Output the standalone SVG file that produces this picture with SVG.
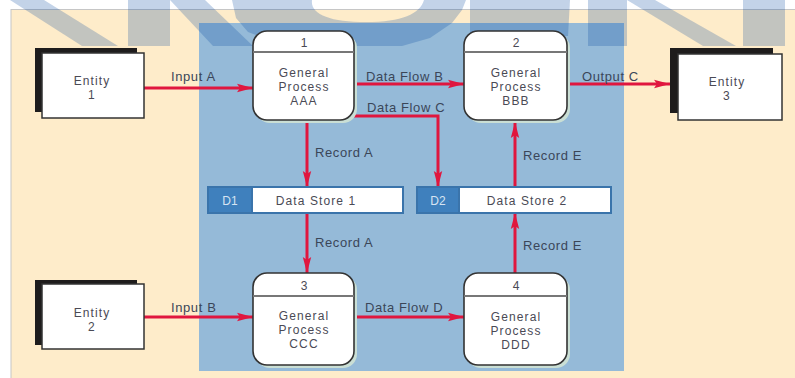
<svg xmlns="http://www.w3.org/2000/svg" width="795" height="378" viewBox="0 0 795 378">
<defs>
<style>
.txt{font-family:"Liberation Sans",Arial,Helvetica,sans-serif;font-size:12px;letter-spacing:1.1px;fill:#4a4a55;text-anchor:middle}
.lbl{font-family:"Liberation Sans",Arial,Helvetica,sans-serif;font-size:13px;letter-spacing:0.6px;fill:#3b4658}
.num{font-family:"Liberation Sans",Arial,Helvetica,sans-serif;font-size:12px;fill:#4a4a55;text-anchor:middle}
.ent{fill:#fff;stroke:#333;stroke-width:1.5}
.shd{fill:#1e1c1c}
.proc{fill:#fff;stroke:#333;stroke-width:1.6}
.pshd{fill:#cadfd5}
.div{stroke:#777;stroke-width:2}
.flow{fill:none;stroke:#e0163e;stroke-width:3;marker-end:url(#ah)}
.wm{fill:#05499e;fill-opacity:0.24}
.dsid{font-family:"Liberation Sans",Arial,Helvetica,sans-serif;font-size:12px;fill:#d6e4f2;text-anchor:middle}
</style>
<marker id="ah" markerUnits="userSpaceOnUse" markerWidth="17" markerHeight="10" refX="16" refY="5" orient="auto">
<path d="M0,0.8 L16,5 L0,9.2 L3,5 Z" fill="#e0163e"/>
</marker>
<clipPath id="wmclip"><rect x="0" y="0" width="795" height="46"/></clipPath>
</defs>

<rect x="0" y="0" width="795" height="378" fill="#fff"/>
<rect x="11" y="9.5" width="790" height="372" fill="#feecca" stroke="#c6c6c6" stroke-width="1"/>
<rect x="199" y="23" width="425" height="348" fill="#95bad8"/>

<g id="watermark" clip-path="url(#wmclip)">
<polygon class="wm" points="10,0 44,0 118,46 82,46"/>
<rect class="wm" x="128" y="0" width="42" height="46"/>
<polygon class="wm" points="170,0 205,0 253,46 213,46"/>
<path class="wm" fill-rule="evenodd" d="M232,0 L236,18 L248,32 L300,52 L360,54 L402,46 L430,38 L452,23 L462,10 L466,0 Z M312,0 C310,14 330,22 366,22 C402,22 420,14 424,0 Z"/>
<path class="wm" d="M470,0 L570,0 L568,36 L470,36 Z"/>
<rect class="wm" x="588" y="0" width="39" height="46"/>
<polygon class="wm" points="627,0 655,0 736,46 703,46"/>
<rect class="wm" x="743" y="0" width="42" height="46"/>
</g>

<g id="connectors">
<line class="flow" x1="144" y1="88" x2="253" y2="88"/>
<line class="flow" x1="354" y1="84" x2="464" y2="84"/>
<polyline class="flow" points="354,116 438,116 438,187"/>
<line class="flow" x1="567" y1="84" x2="670" y2="84"/>
<line class="flow" x1="307" y1="122" x2="307" y2="187"/>
<line class="flow" x1="307" y1="213" x2="307" y2="273"/>
<line class="flow" x1="144" y1="317" x2="253" y2="317"/>
<line class="flow" x1="354" y1="317" x2="464" y2="317"/>
<line class="flow" x1="515" y1="187" x2="515" y2="122"/>
<line class="flow" x1="515" y1="273" x2="515" y2="213"/>
<text class="lbl" x="171" y="81">Input A</text>
<text class="lbl" x="366" y="81">Data Flow B</text>
<text class="lbl" x="367" y="112">Data Flow C</text>
<text class="lbl" x="582" y="81">Output C</text>
<text class="lbl" x="315" y="157">Record A</text>
<text class="lbl" x="315" y="247">Record A</text>
<text class="lbl" x="523" y="160">Record E</text>
<text class="lbl" x="523" y="250">Record E</text>
<text class="lbl" x="171" y="312">Input B</text>
<text class="lbl" x="365" y="312">Data Flow D</text>
</g>

<g id="entity1">
<rect class="shd" x="35" y="48" width="102" height="64"/>
<rect class="ent" x="42" y="53" width="102" height="65"/>
<text class="txt" x="92" y="85">Entity</text>
<text class="txt" x="92" y="99">1</text>
</g>

<g id="entity2">
<rect class="shd" x="35" y="280" width="102" height="65"/>
<rect class="ent" x="42" y="284" width="102" height="65"/>
<text class="txt" x="92" y="317">Entity</text>
<text class="txt" x="92" y="331">2</text>
</g>

<g id="entity3">
<rect class="shd" x="670" y="48" width="103" height="65"/>
<rect class="ent" x="678" y="54" width="104" height="66"/>
<text class="txt" x="727" y="86">Entity</text>
<text class="txt" x="727" y="100">3</text>
</g>

<g id="process1">
<rect class="pshd" x="256" y="34" width="101" height="89" rx="14"/>
<rect class="proc" x="253" y="31" width="101" height="89" rx="14"/>
<line class="div" x1="253" y1="52" x2="354" y2="52"/>
<text class="num" x="304" y="47">1</text>
<text class="txt" x="304" y="76.5">General</text>
<text class="txt" x="304" y="90.5">Process</text>
<text class="txt" x="304" y="104.5">AAA</text>
</g>

<g id="process2">
<rect class="pshd" x="467" y="34" width="103" height="89" rx="14"/>
<rect class="proc" x="464" y="31" width="103" height="89" rx="14"/>
<line class="div" x1="464" y1="52" x2="567" y2="52"/>
<text class="num" x="516" y="47">2</text>
<text class="txt" x="516" y="76.5">General</text>
<text class="txt" x="516" y="90.5">Process</text>
<text class="txt" x="516" y="104.5">BBB</text>
</g>

<g id="process3">
<rect class="pshd" x="256" y="276" width="101" height="92" rx="14"/>
<rect class="proc" x="253" y="273" width="101" height="92" rx="14"/>
<line class="div" x1="253" y1="296" x2="354" y2="296"/>
<text class="num" x="304" y="290">3</text>
<text class="txt" x="304" y="320">General</text>
<text class="txt" x="304" y="334">Process</text>
<text class="txt" x="304" y="348">CCC</text>
</g>

<g id="process4">
<rect class="pshd" x="467" y="276" width="103" height="92" rx="14"/>
<rect class="proc" x="464" y="273" width="103" height="92" rx="14"/>
<line class="div" x1="464" y1="296" x2="567" y2="296"/>
<text class="num" x="516" y="290">4</text>
<text class="txt" x="516" y="321">General</text>
<text class="txt" x="516" y="335">Process</text>
<text class="txt" x="516" y="349">DDD</text>
</g>

<g id="datastore1">
<rect x="208" y="187" width="195" height="26" fill="#fff" stroke="#3a74ab" stroke-width="2"/>
<rect x="208" y="187" width="44" height="26" fill="#3f80bd" stroke="#3a74ab" stroke-width="2"/>
<text class="dsid" x="230" y="205">D1</text>
<text class="txt" x="316" y="205">Data Store 1</text>
</g>

<g id="datastore2">
<rect x="417" y="187" width="194" height="26" fill="#fff" stroke="#3a74ab" stroke-width="2"/>
<rect x="417" y="187" width="42" height="26" fill="#3f80bd" stroke="#3a74ab" stroke-width="2"/>
<text class="dsid" x="438" y="205">D2</text>
<text class="txt" x="527" y="205">Data Store 2</text>
</g>
</svg>
